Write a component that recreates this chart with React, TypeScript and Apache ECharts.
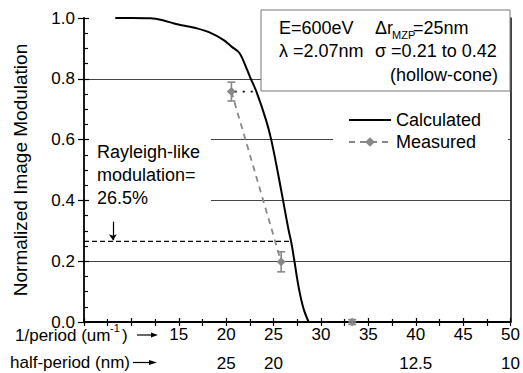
import React, { useEffect, useRef } from "react";
import * as echarts from "echarts";

// ---- data ----
const calcX = [8.3, 10, 12, 13.4, 14.5, 15.5, 16.9, 18.3, 19.7, 20.6, 21.4, 22.2, 22.6, 23.2, 24.2, 24.75, 25.4, 26.0, 26.6, 26.85, 27.2, 27.5, 27.8, 28.2, 28.7];
const calcY = [1.0, 1.0, 0.999, 0.992, 0.982, 0.975, 0.966, 0.952, 0.928, 0.905, 0.885, 0.83, 0.8, 0.757, 0.665, 0.6, 0.5, 0.4, 0.3, 0.265, 0.2, 0.14, 0.09, 0.04, 0.0];

const measX = [20.55, 25.8];
const measY = [0.758, 0.198];
const measErr = [0.031, 0.033];

const tailX = [33.3];
const tailY = [0.0];
const tailErr = [0.008];

const dottedLinkX = [20.9, 23.2];
const dottedLinkY = 0.758;

const rayleighLevel = 0.265;
const rayleighEndX = 26.85;
const arrowX = 8.05;
const arrowFromY = 0.33;

const periodTicksHidden = [5, 10];
const halfPeriodPos = [20, 25, 40, 50];
const halfPeriodLabels = ["25", "20", "12.5", "10"];

const FONT = "'Liberation Sans', Arial, sans-serif";

export default function App() {
  const ref = useRef<HTMLDivElement>(null);

  useEffect(() => {
    if (!ref.current) return;
    const chart = echarts.init(ref.current, undefined, { renderer: "svg" });

    const calcData = calcX.map((x, i) => [x, calcY[i]]);
    const measData = measX.map((x, i) => [x, measY[i]]);
    const tailData = tailX.map((x, i) => [x, tailY[i]]);
    const errData = [
      ...measX.map((x, i) => [x, measY[i], measErr[i]]),
      ...tailX.map((x, i) => [x, tailY[i], tailErr[i]]),
    ];

    const tickStyle = { color: "#000", width: 1.2 };

    const option: any = {
      animation: false,
      backgroundColor: "#fff",
      textStyle: { fontFamily: FONT },
      grid: { left: 84, right: 10, top: 18, bottom: 51, containLabel: false },
      legend: {
        data: [{ name: "Calculated", itemStyle: { opacity: 0 } }, { name: "Measured" }],
        orient: "vertical",
        left: 333,
        top: 107,
        backgroundColor: "#fff",
        padding: [4, 27, 4, 15],
        itemWidth: 42,
        itemHeight: 12,
        itemGap: 4,
        textStyle: { fontSize: 18, color: "#000", fontFamily: FONT, lineHeight: 18 },
      },
      xAxis: [
        {
          type: "value",
          min: 5,
          max: 50,
          interval: 5,
          position: "bottom",
          axisLine: { show: true, onZero: false, lineStyle: { color: "#000", width: 1.8 } },
          axisTick: { show: true, length: 4, lineStyle: tickStyle },
          minorTick: { show: true, splitNumber: 2, length: 4, lineStyle: tickStyle },
          axisLabel: {
            fontSize: 17,
            color: "#000",
            margin: 4,
            fontFamily: FONT,
            formatter: (v: number) => (periodTicksHidden.includes(v) ? "" : String(v)),
          },
          splitLine: { show: false },
        },
        {
          type: "value",
          min: 5,
          max: 50,
          interval: 5,
          position: "bottom",
          offset: 29,
          axisLine: { show: false, onZero: false },
          axisTick: { show: false },
          axisLabel: {
            fontSize: 17,
            color: "#000",
            margin: 4,
            fontFamily: FONT,
            formatter: (v: number) => {
              const i = halfPeriodPos.indexOf(v);
              return i >= 0 ? halfPeriodLabels[i] : "";
            },
          },
          splitLine: { show: false },
        },
        {
          type: "value",
          min: 5,
          max: 50,
          interval: 5,
          position: "bottom",
          axisLine: { show: false, onZero: false },
          axisTick: { show: true, inside: true, length: 4, lineStyle: tickStyle },
          minorTick: { show: true, splitNumber: 2, length: 3, lineStyle: tickStyle },
          axisLabel: { show: false },
          splitLine: { show: false },
        },
      ],
      yAxis: [
        {
          type: "value",
          min: 0,
          max: 1,
          interval: 0.2,
          position: "left",
          name: "Normalized Image Modulation",
          nameLocation: "middle",
          nameGap: 54,
          nameTextStyle: { fontSize: 19, color: "#000", fontFamily: FONT },
          axisLine: { show: true, onZero: false, lineStyle: { color: "#000", width: 1.8 } },
          axisTick: { show: true, length: 6, lineStyle: tickStyle },
          minorTick: { show: false },
          axisLabel: {
            fontSize: 17,
            color: "#000",
            margin: 9,
            fontFamily: FONT,
            formatter: (v: number) => v.toFixed(1),
          },
          splitLine: {
            show: true,
            showMinLine: false,
            showMaxLine: false,
            lineStyle: { color: "#444", width: 1 },
          },
        },
        {
          type: "value",
          min: 0,
          max: 1,
          interval: 0.2,
          position: "left",
          axisLine: { show: false, onZero: false },
          axisTick: { show: true, inside: true, length: 5, lineStyle: tickStyle },
          minorTick: { show: true, splitNumber: 4, length: 4, lineStyle: tickStyle },
          axisLabel: { show: false },
          splitLine: { show: false },
        },
        {
          type: "value",
          min: 0,
          max: 1,
          interval: 0.2,
          position: "right",
          axisLine: { show: true, onZero: false, lineStyle: { color: "#000", width: 1.5 } },
          axisTick: { show: false },
          axisLabel: { show: false },
          splitLine: { show: false },
        },
      ],
      series: [
        {
          name: "Calculated",
          type: "line",
          data: calcData,
          symbol: "none",
          smooth: 0.35,
          lineStyle: { color: "#000", width: 2 },
          itemStyle: { color: "#000" },
          z: 5,
        },
        {
          name: "Measured",
          type: "line",
          data: measData,
          symbol: "diamond",
          symbolSize: 9,
          itemStyle: { color: "#888" },
          lineStyle: { color: "#888", width: 1.8, type: [6, 5] },
          z: 4,
        },
        {
          name: "MeasuredTail",
          type: "scatter",
          data: tailData,
          symbol: "diamond",
          symbolSize: 9,
          itemStyle: { color: "#888" },
          z: 4,
        },
        {
          name: "errors",
          type: "custom",
          data: errData,
          encode: { x: 0, y: 1 },
          z: 4,
          renderItem: (params: any, api: any) => {
            const x = api.value(0);
            const y = api.value(1);
            const e = api.value(2);
            const top = api.coord([x, y + e]);
            const bot = api.coord([x, y - e]);
            const hw = 4;
            const st = { stroke: "#888", lineWidth: 1.6, fill: "none" };
            return {
              type: "group",
              children: [
                { type: "line", shape: { x1: top[0], y1: top[1], x2: bot[0], y2: bot[1] }, style: st },
                { type: "line", shape: { x1: top[0] - hw, y1: top[1], x2: top[0] + hw, y2: top[1] }, style: st },
                { type: "line", shape: { x1: bot[0] - hw, y1: bot[1], x2: bot[0] + hw, y2: bot[1] }, style: st },
              ],
            };
          },
        },
        {
          name: "dottedLink",
          type: "line",
          data: dottedLinkX.map((x) => [x, dottedLinkY]),
          symbol: "none",
          lineStyle: { color: "#000", width: 1.8, type: [2, 6] },
          z: 3,
        },
        {
          name: "rayleigh",
          type: "line",
          data: [
            [5, rayleighLevel],
            [rayleighEndX, rayleighLevel],
          ],
          symbol: "none",
          lineStyle: { color: "#000", width: 1.2, type: [5, 3] },
          z: 3,
          markLine: {
            silent: true,
            symbol: ["none", "arrow"],
            symbolSize: 6,
            label: { show: false },
            lineStyle: { color: "#000", width: 1.2, type: "solid" },
            data: [[{ coord: [arrowX, arrowFromY] }, { coord: [arrowX, rayleighLevel + 0.004] }]],
          },
        },
      ],
      graphic: [
        // parameter box
        {
          type: "rect",
          z: 50,
          shape: { x: 261, y: 10, width: 249, height: 81 },
          style: { fill: "#fff", stroke: "#777", lineWidth: 1 },
        },
        { type: "text", z: 51, x: 279, y: 28, style: { text: "E=600eV", fontSize: 18, fontFamily: FONT, fill: "#000", verticalAlign: "middle" } },
        { type: "text", z: 51, x: 375, y: 28, style: { text: "Δr", fontSize: 18, fontFamily: FONT, fill: "#000", verticalAlign: "middle" } },
        { type: "text", z: 51, x: 392, y: 35, style: { text: "MZP", fontSize: 11, fontFamily: FONT, fill: "#000", verticalAlign: "middle" } },
        { type: "text", z: 51, x: 413, y: 28, style: { text: "=25nm", fontSize: 18, fontFamily: FONT, fill: "#000", verticalAlign: "middle" } },
        { type: "text", z: 51, x: 279, y: 51, style: { text: "λ =2.07nm", fontSize: 18, fontFamily: FONT, fill: "#000", verticalAlign: "middle" } },
        { type: "text", z: 51, x: 375, y: 51, style: { text: "σ =0.21 to 0.42", fontSize: 18, fontFamily: FONT, fill: "#000", verticalAlign: "middle" } },
        { type: "text", z: 51, x: 390, y: 75, style: { text: "(hollow-cone)", fontSize: 18, fontFamily: FONT, fill: "#000", verticalAlign: "middle" } },
        // Rayleigh annotation
        {
          type: "rect",
          z: 50,
          shape: { x: 89, y: 130, width: 122, height: 80 },
          style: { fill: "#fff", stroke: "none" },
        },
        {
          type: "text",
          z: 51,
          x: 97,
          y: 140,
          style: {
            text: "Rayleigh-like\nmodulation=\n26.5%",
            fontSize: 18,
            lineHeight: 23,
            fontFamily: FONT,
            fill: "#000",
            verticalAlign: "top",
          },
        },
        // bottom-left axis captions
        { type: "text", z: 51, x: 15, y: 335, style: { text: "1/period (um", fontSize: 17, fontFamily: FONT, fill: "#000", verticalAlign: "middle" } },
        { type: "text", z: 51, x: 110, y: 328, style: { text: "-1", fontSize: 11, fontFamily: FONT, fill: "#000", verticalAlign: "middle" } },
        { type: "text", z: 51, x: 122, y: 335, style: { text: ")", fontSize: 17, fontFamily: FONT, fill: "#000", verticalAlign: "middle" } },
        { type: "line", z: 51, shape: { x1: 137, y1: 335, x2: 152, y2: 335 }, style: { stroke: "#000", lineWidth: 1.2 } },
        { type: "polygon", z: 51, shape: { points: [[151, 332.5], [158, 335], [151, 337.5]] }, style: { fill: "#000" } },
        { type: "text", z: 51, x: 10, y: 362, style: { text: "half-period (nm)", fontSize: 17, fontFamily: FONT, fill: "#000", verticalAlign: "middle" } },
        { type: "line", z: 51, shape: { x1: 133, y1: 362.5, x2: 150, y2: 362.5 }, style: { stroke: "#000", lineWidth: 1.2 } },
        { type: "polygon", z: 51, shape: { points: [[149, 360], [157, 362.5], [149, 365]] }, style: { fill: "#000" } },
      ],
    };

    chart.setOption(option);
    return () => chart.dispose();
  }, []);

  return (
    <div
      ref={ref}
      style={{ position: "fixed", left: 0, top: 0, width: 523, height: 373, background: "#fff" }}
    />
  );
}
